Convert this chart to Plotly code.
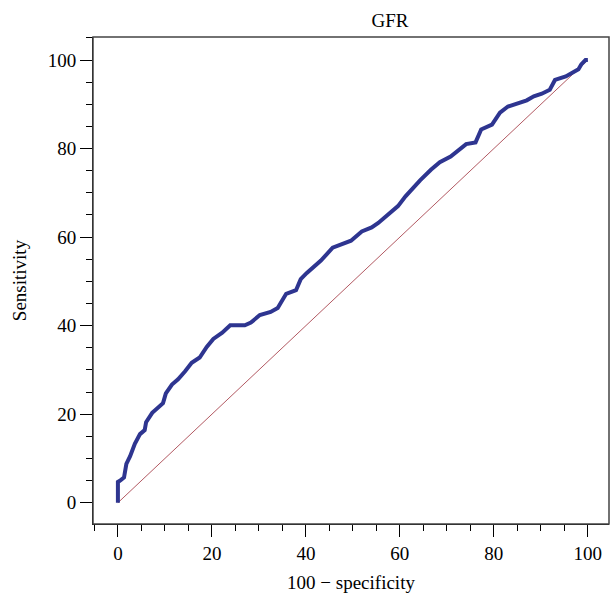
import plotly.graph_objects as go

# ROC curve for GFR (100 - specificity vs sensitivity)
fpr = [0, 0, 0.6, 1.3, 1.8, 2.6, 3.6, 4.7, 5.7, 6.0, 7.3, 8.9, 9.6, 10.2, 11.5,
       12.8, 13.2, 14.3, 15.7, 17.4, 18.9, 20.3, 22.2, 23.9, 27.0, 28.3, 30.2,
       32.5, 34.0, 35.8, 37.9, 38.9, 40.2, 41.3, 43.2, 45.7, 47.2, 49.6, 51.9,
       54.0, 55.4, 57.9, 59.6, 61.2, 62.7, 64.3, 66.6, 68.5, 70.8, 72.5, 74.1,
       76.1, 77.3, 79.6, 81.3, 83.0, 85.2, 87.0, 88.5, 90.2, 91.9, 93.0, 95.3, 96.8,
       98.0, 98.6, 99.5, 100]
sens = [0, 4.7, 5.1, 5.7, 8.8, 10.5, 13.3, 15.5, 16.4, 18.2, 20.3, 21.8, 22.5, 24.7,
        26.7, 27.9, 28.3, 29.7, 31.6, 32.8, 35.2, 37.0, 38.4, 40.1, 40.1, 40.7,
        42.4, 43.1, 44.0, 47.2, 48.0, 50.5, 51.9, 53.0, 54.7, 57.6, 58.3, 59.2,
        61.3, 62.2, 63.2, 65.4, 67.0, 69.2, 71.0, 72.8, 75.2, 76.9, 78.2, 79.6,
        81.0, 81.4, 84.3, 85.4, 88.1, 89.5, 90.4, 90.9, 91.8, 92.4, 93.3, 95.5, 96.3,
        97.3, 97.9, 99.0, 100, 100]
ref_x = [0, 100]
ref_y = [0, 100]

title_text = "GFR"
x_title = "100 \u2212 specificity"
y_title = "Sensitivity"
tick_vals = [0, 20, 40, 60, 80, 100]

FONT = "Liberation Serif, Times New Roman, serif"

fig = go.Figure()
fig.add_trace(go.Scatter(x=ref_x, y=ref_y, mode="lines",
                         line=dict(color="rgba(165,60,70,0.85)", width=1),
                         hoverinfo="skip", showlegend=False))
fig.add_trace(go.Scatter(x=fpr, y=sens, mode="lines",
                         line=dict(color="#2E3590", width=4),
                         showlegend=False))

axis_common = dict(
    showgrid=False, zeroline=False, showline=True, linecolor="black", linewidth=1,
    ticks="outside", ticklen=12, tickwidth=1, tickcolor="black",
    tickvals=tick_vals,
    tickfont=dict(family=FONT, size=19, color="black"),
    minor=dict(ticks="outside", ticklen=6, tickwidth=1, tickcolor="black", dtick=5, tick0=0),
)

fig.update_layout(
    width=610, height=597,
    margin=dict(l=93, r=1, t=37, b=73),
    paper_bgcolor="white", plot_bgcolor="white",
    title=dict(text=title_text, x=(93 + 609) / 2 / 610, xanchor="center", xref="paper",
               y=1 - 20 / 597, yanchor="middle",
               font=dict(family=FONT, size=19, color="black")),
    xaxis=dict(range=[-5.3, 104.5],
               title=dict(text=x_title, font=dict(family=FONT, size=19, color="black"), standoff=12),
               **axis_common),
    yaxis=dict(range=[-4.8, 105.2],
               title=dict(text=y_title, font=dict(family=FONT, size=19, color="black"), standoff=16),
               **axis_common),
    shapes=[dict(type="rect", xref="paper", yref="paper", x0=0, x1=1, y0=0, y1=1,
                 line=dict(color="#444444", width=1.5), layer="above")],
)

fig.write_html("out.html", config={"displayModeBar": False},
               post_script="document.body.style.margin='0';document.body.style.padding='0';")
